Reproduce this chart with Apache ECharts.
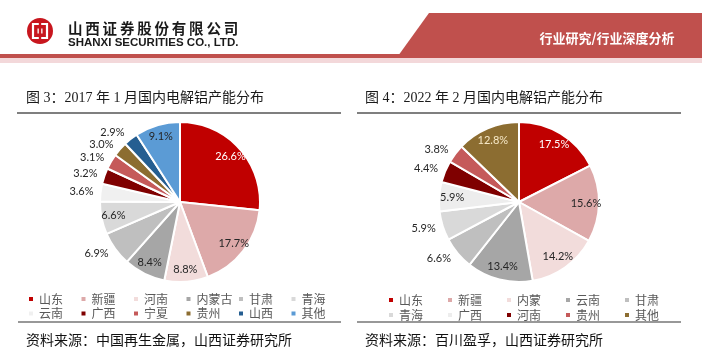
<!DOCTYPE html>
<html><head><meta charset="utf-8">
<script src="https://cdn.jsdelivr.net/npm/echarts@6/dist/echarts.min.js"></script>
<style>html,body{margin:0;padding:0;background:#fff}#c{width:702px;height:364px}</style>
</head><body><div id="c"></div>
<script>
// ---- data ----
const leftCategories = ['山东','新疆','河南','内蒙古','甘肃','青海','云南','广西','宁夏','贵州','山西','其他'];
const leftValues = [26.6,17.7,8.8,8.4,6.9,6.6,3.6,3.2,3.1,3.0,2.9,9.1];
const rightCategories = ['山东','新疆','内蒙','云南','甘肃','青海','广西','河南','贵州','其他'];
const rightValues = [17.5,15.6,14.2,13.4,6.6,5.9,5.9,4.4,3.8,12.8];
const leftTitle = '图 3：2017 年 1 月国内电解铝产能分布';
const rightTitle = '图 4：2022 年 2 月国内电解铝产能分布';
const leftSource = '资料来源：中国再生金属，山西证券研究所';
const rightSource = '资料来源：百川盈孚，山西证券研究所';
const companyName = '山西证券股份有限公司';
const companyEn = 'SHANXI SECURITIES CO., LTD.';
const headerTag = '行业研究/行业深度分析';

// ---- styles ----
const leftColors = ['#C00000','#DDA9A9','#F2DCDB','#A6A6A6','#BFBFBF','#D9D9D9','#F0F0F0','#7F0000','#C55A5A','#8C6D31','#255E91','#5B9BD5'];
const leftOutside = [false,false,false,false,true,false,true,true,true,true,true,false];
const leftLabelColors = ['#FFFFFF'];
const rightColors = ['#C00000','#DDA9A9','#F2DCDB','#A6A6A6','#BFBFBF','#D9D9D9','#EDEDED','#7F0000','#C55A5A','#8C6D31'];
const rightOutside = [false,false,false,false,true,true,false,true,true,false];
const rightLabelColors = ['#FFFFFF',null,null,null,null,null,null,null,null,'#F7E9C8'];

function pieSeries(names, values, colors, outside, labelColors, center, r, rLabel) {
  const base = {type:'pie', center:center, startAngle:90, clockwise:true, silent:true,
    animation:false, avoidLabelOverlap:false};
  const fill = Object.assign({}, base, {
    radius:[0, r], label:{show:false}, labelLine:{show:false},
    data: names.map((n,i)=>({name:n, value:values[i],
      itemStyle:{color:colors[i], borderColor:'#ffffff', borderWidth:2}}))
  });
  const labels = Object.assign({}, base, {
    radius:[rLabel, r],
    itemStyle:{color:'rgba(0,0,0,0)', borderWidth:0},
    labelLine:{show:false, length:2, length2:0},
    label:{fontFamily:'Lato', fontSize:11, color:'#262626',
      formatter: p => p.value.toFixed(1) + '%'},
    labelLayout: function (p) {
      if (!outside[p.dataIndex]) return {};
      const lr = p.labelRect;
      const lx = lr.x + lr.width/2, ly = lr.y + lr.height/2;
      const d = Math.hypot(lx - center[0], ly - center[1]) || 1;
      return {dy: (ly - center[1]) / d * lr.height * 0.6};
    },
    data: names.map((n,i)=>({name:n, value:values[i],
      label:{position: outside[i] ? 'outside' : 'inside', color: labelColors[i] || '#262626'}}))
  });
  return [fill, labels];
}

function legendFor(names, colors, left, top, width, textW, gap) {
  return {
    data: names.map((n,i)=>({name:n, itemStyle:{color:colors[i]}})),
    left:left, top:top, width:width, orient:'horizontal', padding:0,
    itemGap:gap, itemWidth:6, itemHeight:6, icon:'rect', selectedMode:false,
    textStyle:{fontSize:12, color:'#595959', width:textW, lineHeight:12,
      fontFamily:'Noto Sans CJK SC'}
  };
}

const graphic = [
  {type:'polygon', shape:{points:[[429,13],[702,13],[702,56],[398,56]]}, style:{fill:'#C0504D'}},
  {type:'rect', shape:{x:0, y:54, width:702, height:4}, style:{fill:'#C0504D'}},
  {type:'rect', shape:{x:0, y:58, width:702, height:5}, style:{fill:'#F3D8DA'}},
  // logo
  {type:'circle', shape:{cx:40, cy:31, r:13}, style:{fill:'#C8161E'}},
  {type:'rect', shape:{x:33, y:24, width:14, height:14}, style:{fill:'none', stroke:'#ffffff', lineWidth:2.2}},
  {type:'rect', shape:{x:37.5, y:28.5, width:5, height:5}, style:{fill:'#ffffff'}},
  {type:'rect', shape:{x:38.8, y:21, width:2.4, height:20}, style:{fill:'#C8161E'}},
  {type:'text', style:{text:companyEn, x:68, y:43, fill:'#1a1a1a', font:'bold 11.5px "Liberation Sans", Arial',
    textVerticalAlign:'middle'}},
  {type:'text', style:{text:headerTag, x:607, y:38, fill:'#ffffff', font:'bold 13px "Noto Sans CJK SC"',
    textAlign:'center', textVerticalAlign:'middle'}},
  {type:'text', style:{text:leftTitle, x:26, y:98, fill:'#1a1a1a', font:'14px "Liberation Serif", "Noto Sans CJK SC"',
    textVerticalAlign:'middle'}},
  {type:'text', style:{text:rightTitle, x:365, y:98, fill:'#1a1a1a', font:'14px "Liberation Serif", "Noto Sans CJK SC"',
    textVerticalAlign:'middle'}},
  {type:'line', shape:{x1:17, y1:113, x2:341, y2:113}, style:{stroke:'#555555', lineWidth:1.5}},
  {type:'line', shape:{x1:357, y1:113, x2:681, y2:113}, style:{stroke:'#555555', lineWidth:1.5}},
  {type:'line', shape:{x1:18, y1:322, x2:341, y2:322}, style:{stroke:'#333333', lineWidth:1.2}},
  {type:'line', shape:{x1:357, y1:322, x2:681, y2:322}, style:{stroke:'#333333', lineWidth:1.2}},
  {type:'text', style:{text:leftSource, x:26, y:340, fill:'#111111', font:'14px "Noto Sans CJK SC"',
    textVerticalAlign:'middle'}},
  {type:'text', style:{text:rightSource, x:365, y:340, fill:'#111111', font:'14px "Noto Sans CJK SC"',
    textVerticalAlign:'middle'}}
];
Array.from(companyName).forEach((ch, i) => {
  graphic.push({type:'text', style:{text:ch, x:68 + i*17.3, y:28, fill:'#1a1a1a',
    font:'bold 14.5px "Noto Sans CJK SC"', textVerticalAlign:'middle'}});
});

const chart = echarts.init(document.getElementById('c'), null, {renderer:'canvas'});
chart.setOption({
  animation:false,
  backgroundColor:'#ffffff',
  legend:[
    legendFor(leftCategories, leftColors, 27, 293, 335, 38, 2.5),
    legendFor(rightCategories, rightColors, 387, 294, 295, 44, 3)
  ],
  graphic: graphic,
  series: [].concat(
    pieSeries(leftCategories, leftValues, leftColors, leftOutside, leftLabelColors, [180, 202], 80, 50),
    pieSeries(rightCategories, rightValues, rightColors, rightOutside, rightLabelColors, [519, 202], 80, 48)
  )
});
</script></body></html>
